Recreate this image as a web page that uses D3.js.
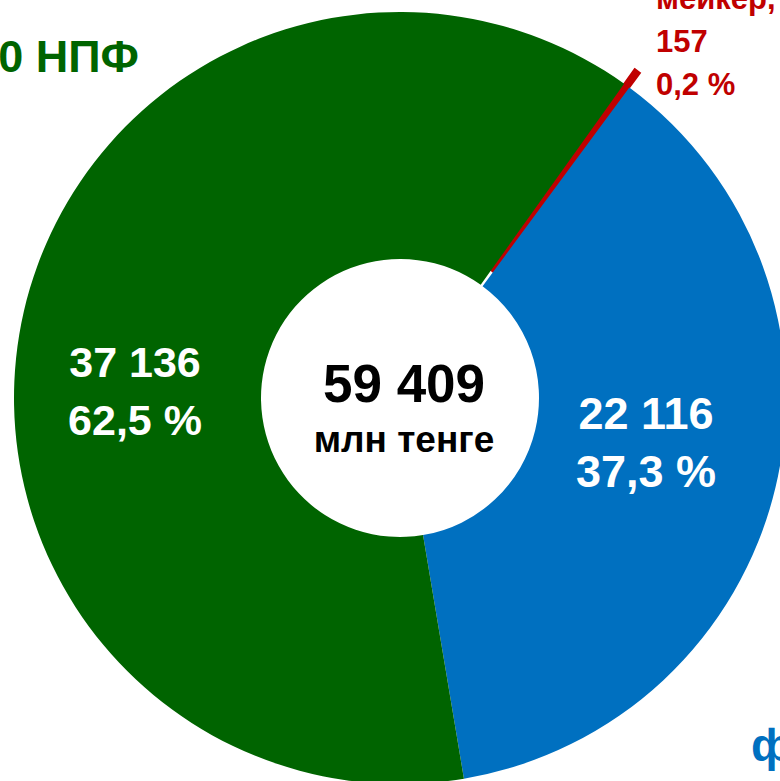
<!DOCTYPE html>
<html lang="ru">
<head>
<meta charset="UTF-8">
<title>Пенсионные активы</title>
<script src="https://d3js.org/d3.v7.min.js"></script>
<style>
html,body{margin:0;padding:0;background:#fff;overflow:hidden}
svg{display:block}
text{font-family:"Liberation Sans",Arial,sans-serif;font-weight:bold}
</style>
</head>
<body>
<div id="chart"></div>
<script>
// slices, clockwise from the small red one
var categories = ['маркет-мейкер', 'ЕНПФ', '10 НПФ'];
var values = [157, 22116, 37136];
var valueLabels = ['157', '22 116', '37 136'];
var pctLabels = ['0,2 %', '37,3 %', '62,5 %'];
var colors = ['#c00000', '#0070c0', '#006400'];
var totalLabel = '59 409';
var unitLabel = 'млн тенге';

var W = 780, H = 781;
var cx = 400, cy = 398;
var rOuter = 386, rInner = 139;
var explode = 18;

var svg = d3.select('#chart').append('svg').attr('width', W).attr('height', H);
var g = svg.append('g').attr('transform', 'translate(' + cx + ',' + cy + ')');

var pie = d3.pie().sort(null).startAngle(35.5 * Math.PI / 180).endAngle((35.5 + 360) * Math.PI / 180);
var arcs = pie(values);
var arc = d3.arc().innerRadius(rInner).outerRadius(rOuter);

g.selectAll('path').data(arcs).join('path')
  .attr('d', arc)
  .attr('fill', function(d, i) { return colors[i]; })
  .attr('stroke', function(d, i) { return i === 0 ? colors[0] : 'none'; })
  .attr('stroke-width', 2)
  .attr('transform', function(d, i) {
    if (i !== 0) return null;
    var a = (d.startAngle + d.endAngle) / 2;
    return 'translate(' + (Math.sin(a) * explode) + ',' + (-Math.cos(a) * explode) + ')';
  });

// labels inside the two big slices
var inner = [
  { i: 1, x: 246, y: 31, size: 45 },
  { i: 2, x: -265, y: -21, size: 43 }
];
inner.forEach(function(l) {
  var t = g.append('text').attr('text-anchor', 'middle').attr('fill', '#fff').attr('font-size', l.size);
  t.append('tspan').attr('x', l.x).attr('y', l.y).text(valueLabels[l.i]);
  t.append('tspan').attr('x', l.x).attr('y', l.y + 58).text(pctLabels[l.i]);
});

// centre total
g.append('text').attr('text-anchor', 'middle').attr('x', 4).attr('y', 4)
  .attr('font-size', 53).attr('fill', '#000').text(totalLabel);
g.append('text').attr('text-anchor', 'middle').attr('x', 4).attr('y', 54)
  .attr('font-size', 37).attr('fill', '#000').text(unitLabel);

// outside labels (cut by the frame)
svg.append('text').attr('text-anchor', 'end').attr('x', 139).attr('y', 72)
  .attr('font-size', 45).attr('fill', colors[2]).text(categories[2]);

var red = svg.append('text').attr('fill', colors[0]).attr('font-size', 31);
red.append('tspan').attr('x', 656).attr('y', 9).text('мейкер,');
red.append('tspan').attr('x', 656).attr('y', 52).text(valueLabels[0]);
red.append('tspan').attr('x', 656).attr('y', 95).text(pctLabels[0]);

svg.append('text').attr('x', 751).attr('y', 761)
  .attr('font-size', 47).attr('fill', colors[1]).text('фонд');
</script>
</body>
</html>
